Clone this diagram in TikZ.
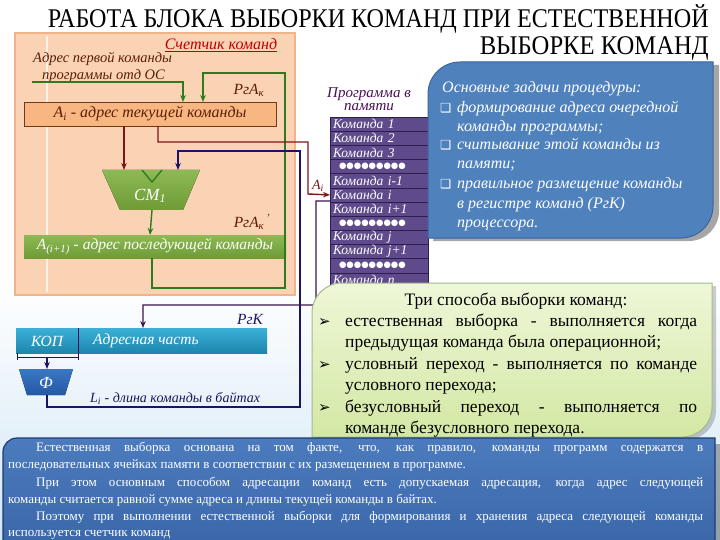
\documentclass[tikz,border=0pt]{standalone}
\usepackage{fontspec}
\usepackage{graphicx}
\setmainfont{Liberation Serif}
\newfontfamily\dejavu{DejaVu Sans}
\usetikzlibrary{arrows.meta,calc}
\definecolor{peach}{HTML}{FAD2B4}
\definecolor{peachbd}{HTML}{EFB489}
\definecolor{orbox}{HTML}{F8B683}
\definecolor{orboxbd}{HTML}{6E3A1E}
\definecolor{brownt}{HTML}{5C1E06}
\definecolor{gline}{HTML}{2D7B1E}
\definecolor{gbox}{HTML}{6E9B35}
\definecolor{gboxl}{HTML}{8EBA55}
\definecolor{dred}{HTML}{7B1616}
\definecolor{navy}{HTML}{1B1464}
\definecolor{pline}{HTML}{3C1450}
\definecolor{memf}{HTML}{5F4B8B}
\definecolor{memsep}{HTML}{2C1E4E}
\definecolor{proglbl}{HTML}{4B0E55}
\definecolor{bluebox}{HTML}{4F81BD}
\definecolor{blueboxbd}{HTML}{3A66A0}
\definecolor{tealt}{HTML}{3CB0D8}
\definecolor{tealb}{HTML}{1C86AE}
\definecolor{phit}{HTML}{3A78C4}
\definecolor{phib}{HTML}{2457A4}
\definecolor{lgt}{HTML}{EEF7D8}
\definecolor{lgb}{HTML}{D3E8A4}
\definecolor{lgbd}{HTML}{A8B98C}
\definecolor{botbt}{HTML}{4B7BBE}
\definecolor{botbb}{HTML}{3B67A8}
\definecolor{botbd}{HTML}{1D3D6E}
\definecolor{skyb}{HTML}{D2E6F5}
\definecolor{redt}{HTML}{C00000}
\newcommand\memdots{\hspace*{6pt}{\dejavu\fontsize{8.5}{8.5}\selectfont ●●●●●●●●●}}
\begin{document}
\begin{tikzpicture}[x=1pt,y=-1pt,
  it/.style={inner sep=0pt, font=\itshape\fontsize{#1}{#1}\selectfont},
  it/.default=14,
  rm/.style={inner sep=0pt, font=\fontsize{#1}{#1}\selectfont},
  rm/.default=14,
  tip/.style={-{Stealth[length=7pt,width=5.5pt]}},
  garr/.style={draw=gline, line width=1.4pt, tip},
  rarr/.style={draw=dred, line width=1.4pt, tip},
  narr/.style={draw=navy, line width=1.2pt, tip},
  parr/.style={draw=pline, line width=1.2pt, tip},
  regbox/.style={rectangle, inner sep=0pt, outer sep=0pt, anchor=north west},
  bul/.style={inner sep=0pt, anchor=base west, font=\dejavu\fontsize{#1}{#1}\selectfont},
  bul/.default=12,
]
\useasboundingbox (0,0) rectangle (720,540);
% background
\fill[white] (0,0) rectangle (720,540);
\shade[top color=white, bottom color=skyb] (0,280) rectangle (720,540);

% title
\node[rm=27, anchor=base east] (t1) at (709,28) {\resizebox{661pt}{\height}{РАБОТА БЛОКА ВЫБОРКИ КОМАНД ПРИ ЕСТЕСТВЕННОЙ}};
\node[rm=27, anchor=base east] (t2) at (709,55) {\resizebox{229pt}{\height}{ВЫБОРКЕ КОМАНД}};

% counter panel
\node[regbox, draw=peachbd, fill=peach, line width=1.2pt, minimum width=280pt, minimum height=262pt] (panel) at (15,33) {};
\draw[white, opacity=0.7, line width=1.2pt] (47,36) -- (47,292);

\node[it=16, text=redt] (counter) at (221,45) {\underline{Счетчик команд}};
\node[it=14.5, text=brownt, anchor=base west] (first1) at (33,63) {Адрес первой команды};
\node[it=14.5, text=brownt, anchor=base west] (first2) at (42,80) {программы отд ОС};
\coordinate (inS) at (32,82);
\node[it=15.5, text=brownt] (rga) at (249,90) {РгА\textsubscript{к}};

\node[regbox, draw=orboxbd, fill=orbox, line width=0.8pt, minimum width=252pt, minimum height=24pt, text=brownt, font=\itshape\fontsize{16}{16}\selectfont] (ai) at (24,102) {A\textsubscript{i} - адрес текущей команды};

% CM1 adder
\fill[top color=gboxl, bottom color=gbox] (102,170) -- (200,170) -- (183,210) -- (120,210) -- cycle;
\node[regbox, minimum width=98pt, minimum height=40pt] (cm) at (102,170) {};
\draw[gline, line width=1.4pt] (142,170) -- (152,182) -- (162,170);
\node[it=17, text=white] (cmtext) at (150,196) {CM\textsubscript{1}};

\node[it=15.5, text=brownt] (rga2) at (252,222) {РгА\textsubscript{к}\textsuperscript{\,'}};

\node[regbox, top color=gboxl, bottom color=gbox, minimum width=262pt, minimum height=23pt, text=white, font=\itshape\fontsize{15.5}{15.5}\selectfont] (ainext) at (24,235) {A\textsubscript{(i+1)} - адрес последующей команды};

% memory
\node[text=proglbl, align=center, inner sep=0pt, font=\itshape\fontsize{15}{13.5}\selectfont] (proglabel) at (369,99) {Программа в\\памяти};
\foreach \t [count=\k] in {Команда 1, Команда 2, Команда 3, \memdots, Команда i-1, Команда i, Команда i+1, \memdots, Команда j, Команда j+1, \memdots, Команда n}
  \node[regbox, fill=memf, draw=memsep, line width=0.6pt, minimum width=98pt, minimum height=14.17pt, inner xsep=3pt, text width=92pt, align=left, text=white, font=\itshape\fontsize{13.5}{13.5}\selectfont] (mem\k) at (330,{117+(\k-1)*14.17}) {\t};

% connectors in counter
\draw[garr] (inS) -| ($(ai.north west)+(159,0)$);
\draw[garr] ($(ainext.south west)+(128,0)$) -- ++(0,30) -| (285,73) -| ($(ai.north west)+(179,0)$);
\draw[rarr] ($(ai.south west)+(100,0)$) -- ($(cm.north west)+(22,0)$);
\draw[garr] ($(cm.south west)+(50,0)$) -- (ainext.north -| cmtext);
\draw[rarr] ($(ai.south west)+(134,0)$) -- ++(0,16) -- (308,142) -- (308,194) -- (mem6.west);
\node[it=14, text=dred, fill=white, inner sep=0.6pt] (ailbl) at (318,186) {A\textsubscript{i}};

% blue tasks box
\fill[black, opacity=0.35] (463,65) -- (719,65) -- (719,211) .. controls (719,227.6) and (705.6,241) .. (689,241) -- (433,241) -- cycle;
\path[fill=bluebox, draw=blueboxbd, line width=1pt] (460,62) -- (713,62) -- (713,206) .. controls (713,223.7) and (698.7,238) .. (681,238) -- (428,238) -- (428,94) .. controls (428,76.3) and (442.3,62) .. (460,62) -- cycle;
\begin{scope}[every node/.style={it=16, text=white, anchor=base west}]
\node (task0) at (442,93) {Основные задачи процедуры:};
\node (task1) at (457,113) {формирование адреса очередной};
\node (task2) at (457,132) {команды программы;};
\node (task3) at (457,150) {считывание этой команды из};
\node (task4) at (457,169) {памяти;};
\node (task5) at (457,189) {правильное размещение команды};
\node (task6) at (457,208) {в регистре команд (РгК)};
\node (task7) at (457,227) {процессора.};
\end{scope}
\node[bul=12.5, text=white] (tb1) at (440,113) {❑};
\node[bul=12.5, text=white] (tb2) at (440,150) {❑};
\node[bul=12.5, text=white] (tb3) at (440,189) {❑};

% register RgK
\node[regbox, top color=tealt, bottom color=tealb, minimum width=251pt, minimum height=25pt] (rgk) at (16,328) {};
\draw[navy, line width=1pt] (78,328) -- (78,353);
\node[it=15.5, text=white] (kop) at (47,341) {КОП};
\node[it=15.5, text=white, anchor=west] (addr) at (93,341) {Адресная часть};
\node[it=15.5, text=navy] (rgklbl) at (250,319) {РгК};
\draw[navy, line width=1pt] (17,353) -- (17,360) (78,353) -- (78,360) (17,357) -- (78,357);

% phi decoder
\fill[top color=phit, bottom color=phib] (19,369) -- (73,369) -- (65,395) -- (27,395) -- cycle;
\node[regbox, minimum width=54pt, minimum height=26pt] (phi) at (19,369) {};
\node[it=17, text=white] (phitext) at (46,383) {Ф};
\draw[narr] (47,357) -- (phi.north -| 47,0);
\node[it=14, text=navy, anchor=base west] (li) at (90,402) {L\textsubscript{i} - длина команды в байтах};

\draw[narr] (phi.south -| 47,0) -- (47,407) -- (300,407) -- (300,151) -- (178,151) -- (cm.north -| 178,0);
\draw[parr] ($(mem6.south west)+(0,-1)$) -- (316,201) -- (316,305) -- (143,305) -- (rgk.north -| 143,0);

% green box
\fill[black, opacity=0.2] (345,286) -- (716,286) -- (716,410) .. controls (716,426.6) and (702.6,440) .. (686,440) -- (315,440) -- cycle;
\path[top color=lgt, bottom color=lgb, draw=lgbd, line width=1pt] (342,283) -- (712,283) -- (712,407) .. controls (712,423.6) and (698.6,437) .. (682,437) -- (312,437) -- (312,313) .. controls (312,296.4) and (325.4,283) .. (342,283) -- cycle;
\node[rm=17.5, anchor=base] (ways) at (516,305) {Три способа выборки команд:};
\begin{scope}[every node/.style={rm=17.5, anchor=base west}]
\node (w1) at (345,326) {\hbox to 352pt{естественная выборка - выполняется когда}};
\node (w2) at (345,347.5) {предыдущая команда была операционной;};
\node (w3) at (345,369) {\hbox to 352pt{условный переход - выполняется по команде}};
\node (w4) at (345,390.5) {условного перехода;};
\node (w5) at (345,412) {\hbox to 352pt{безусловный переход - выполняется по}};
\node (w6) at (345,433.5) {команде безусловного перехода.};
\end{scope}
\node[bul=15] (wb1) at (318,326) {➢};
\node[bul=15] (wb2) at (318,369) {➢};
\node[bul=15] (wb3) at (318,412) {➢};

% bottom box
\fill[black, opacity=0.3] (8,444) -- (720,444) -- (720,545) -- (8,545) -- cycle;
\path[top color=botbt, bottom color=botbb, draw=botbd, line width=1.2pt] (3,452) .. controls (3,444.3) and (9.3,438) .. (17,438) -- (715,438) -- (715,546) -- (3,546) -- cycle;
\begin{scope}[every node/.style={rm=13, anchor=base west, text=white}]
\node (p1) at (36,451) {\hbox to 667pt{Естественная выборка основана на том факте, что, как правило, команды программ содержатся в}};
\node (p2) at (8,468.5) {последовательных ячейках памяти в соответствии с их размещением в программе.};
\node (p3) at (36,486) {\hbox to 667pt{При этом основным способом адресации команд есть допускаемая адресация, когда адрес следующей}};
\node (p4) at (8,503) {команды считается равной сумме адреса и длины текущей команды в байтах.};
\node (p5) at (36,520) {\hbox to 667pt{Поэтому при выполнении естественной выборки для формирования и хранения адреса следующей команды}};
\node (p6) at (8,536.5) {используется счетчик команд};
\end{scope}
\end{tikzpicture}
\end{document}
